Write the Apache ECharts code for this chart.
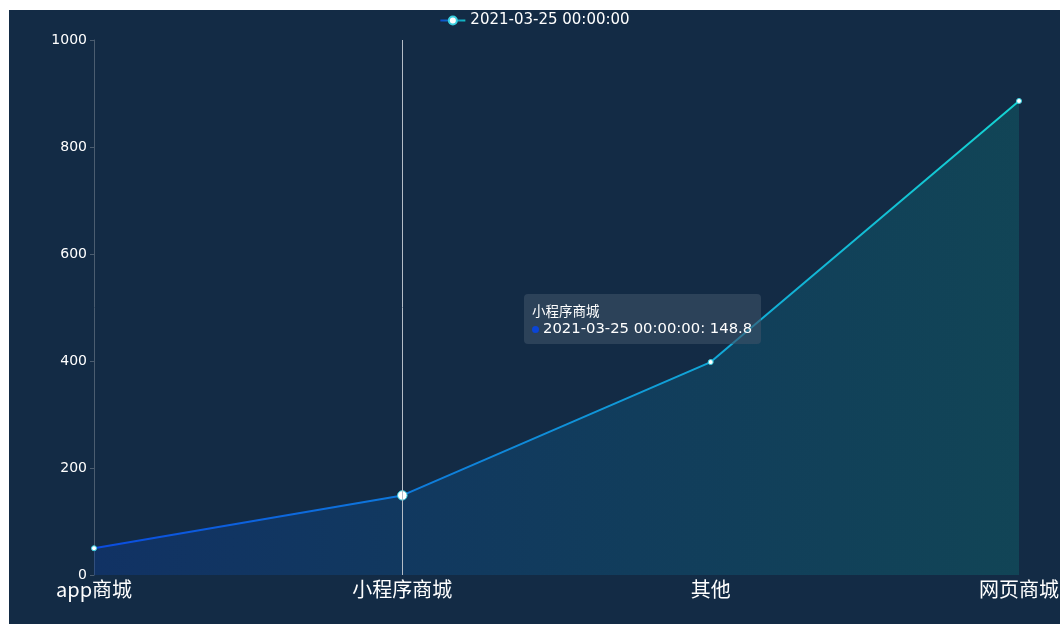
<!DOCTYPE html>
<html><head><meta charset="utf-8">
<script src="https://cdn.jsdelivr.net/npm/echarts@6/dist/echarts.min.js"></script>
<style>
html,body{margin:0;padding:0;background:#fff;}
#c{position:absolute;left:9px;top:10px;width:1051px;height:614px;background:#132b45;}
</style></head><body>
<div id="c"></div>
<script>
var categories = ['app商城', '小程序商城', '其他', '网页商城'];
var seriesName = '2021-03-25 00:00:00';
var values = [50, 148.8, 398, 886];
var yMax = 1000, yInterval = 200;

var chart = echarts.init(document.getElementById('c'));
var cjk = '"Noto Sans CJK SC", sans-serif';
var num = '"DejaVu Sans", sans-serif';
chart.setOption({
  backgroundColor: '#132b45',
  animation: false,
  legend: {
    top: 3, left: 'center', padding: 0,
    itemWidth: 25, itemHeight: 10, itemGap: 10,
    textStyle: {color: '#fff', fontSize: 15, fontFamily: num},
    data: [seriesName]
  },
  tooltip: {
    trigger: 'axis',
    alwaysShowContent: true,
    position: [515, 284],
    backgroundColor: 'rgba(62,82,104,0.6)',
    borderWidth: 0,
    padding: [7, 9, 7, 8],
    extraCssText: 'box-shadow:none;border-radius:4px;',
    formatter: function (params) {
      var p = params[0];
      return '<div style="font-family:\'Noto Sans CJK SC\';font-size:13.5px;color:#fff;line-height:18px;">' + p.name + '</div>' +
        '<div style="font-family:\'DejaVu Sans\';font-size:14.8px;color:#fff;line-height:18px;">' +
        '<span style="display:inline-block;width:7px;height:7px;border-radius:50%;background:#0b45d6;margin-right:4px;vertical-align:middle;"></span>' +
        p.seriesName + ': ' + p.value + '</div>';
    },
    axisPointer: {type: 'line', lineStyle: {color: '#b4bcc6', width: 1, type: 'solid'}}
  },
  grid: {left: 85, right: 41, top: 30, bottom: 49, outerBoundsMode: 'none', containLabel: false},
  xAxis: {
    type: 'category', boundaryGap: false, data: categories,
    axisLine: {show: false},
    axisTick: {show: false},
    axisLabel: {color: '#fff', fontSize: 20, margin: 4, fontFamily: cjk}
  },
  yAxis: {
    type: 'value', min: 0, max: yMax, interval: yInterval,
    axisLine: {show: true, lineStyle: {color: '#4b5d70'}},
    axisTick: {show: true, length: 4, lineStyle: {color: '#4b5d70'}},
    splitLine: {show: false},
    axisLabel: {color: '#fff', fontSize: 14, margin: 7, fontFamily: num, formatter: function (v) { return String(v); }}
  },
  series: [{
    name: seriesName,
    type: 'line',
    data: values,
    symbol: 'circle', symbolSize: 5,
    showSymbol: true,
    itemStyle: {color: '#ffffff', borderColor: '#3ad0e0', borderWidth: 1},
    lineStyle: {
      width: 2,
      color: new echarts.graphic.LinearGradient(0, 0, 1, 0, [
        {offset: 0, color: '#0a45cc'}, {offset: 1, color: '#13c2c0'}
      ])
    },
    areaStyle: {
      color: new echarts.graphic.LinearGradient(0, 0, 1, 0, [
        {offset: 0, color: 'rgba(13,55,130,0.6)'}, {offset: 1, color: 'rgba(14,95,100,0.6)'}
      ])
    },
    emphasis: {scale: 1.9, focus: 'none'}
  }]
});
chart.dispatchAction({type: 'showTip', seriesIndex: 0, dataIndex: 1});
</script>
</body></html>
